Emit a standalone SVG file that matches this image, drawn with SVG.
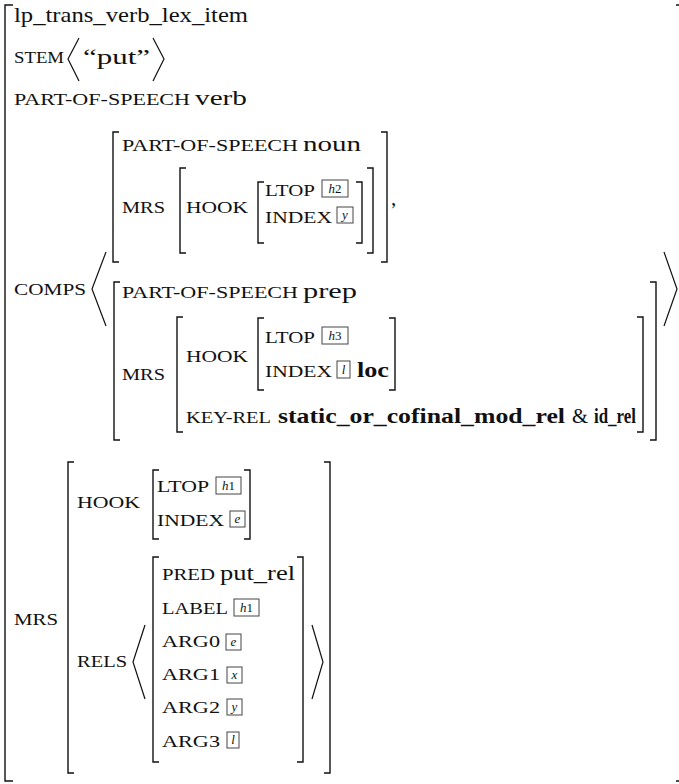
<svg xmlns="http://www.w3.org/2000/svg" width="679" height="784" viewBox="0 0 679 784">
<style>
text{font-family:"Liberation Serif","Times New Roman",serif;fill:#111}
.v{font-size:21px}
.k{font-size:17px}
.b{font-weight:bold;font-size:20px}
.t{font-size:13px;font-style:italic;text-anchor:middle}
.n{font-style:normal}
.br{fill:none;stroke:#111;stroke-width:1.4}
.ang{fill:none;stroke:#111;stroke-width:1.2}
.tag{fill:none;stroke:#444;stroke-width:1}
</style>
<rect width="679" height="784" fill="#fff"/>
<g id="outer">
<path class="br" d="M13 5H5V781H13"/>
<path class="br" d="M676 5H679M676 781H679"/>
<text class="v" x="14" y="22" textLength="234" lengthAdjust="spacingAndGlyphs">lp_trans_verb_lex_item</text>
</g>
<g id="stem">
<text class="k" x="14" y="63" textLength="50" lengthAdjust="spacingAndGlyphs">STEM</text>
<path class="ang" d="M79 38L68 59L79 81"/>
<text class="v" x="83" y="64" textLength="67" lengthAdjust="spacingAndGlyphs">“put”</text>
<path class="ang" d="M153 38L164 59L153 81"/>
</g>
<g id="pos">
<text class="k" x="14" y="105" textLength="176" lengthAdjust="spacingAndGlyphs">PART-OF-SPEECH</text>
<text class="v" x="195" y="105" textLength="52" lengthAdjust="spacingAndGlyphs">verb</text>
</g>
<g id="comps">
<text class="k" x="14" y="295" textLength="72" lengthAdjust="spacingAndGlyphs">COMPS</text>
<path class="ang" d="M106 252L92 289L106 326"/>
<path class="ang" d="M664 252L677 289L664 326"/>
<g id="comp1">
<path class="br" d="M119 132H113V262H119"/>
<path class="br" d="M381 132H387V262H381"/>
<text class="k" x="122" y="151" textLength="176" lengthAdjust="spacingAndGlyphs">PART-OF-SPEECH</text>
<text class="v" x="303" y="151" textLength="58" lengthAdjust="spacingAndGlyphs">noun</text>
<text class="k" x="122" y="213" textLength="43" lengthAdjust="spacingAndGlyphs">MRS</text>
<path class="br" d="M186 168H180V253H186"/>
<path class="br" d="M367 168H373V253H367"/>
<text class="k" x="186" y="213" textLength="62" lengthAdjust="spacingAndGlyphs">HOOK</text>
<path class="br" d="M264 182H258V243H264"/>
<path class="br" d="M356 182H362V243H356"/>
<text class="k" x="265" y="196" textLength="50" lengthAdjust="spacingAndGlyphs">LTOP</text>
<rect class="tag" x="322" y="180" width="26" height="17"/>
<text class="t" x="335" y="193">h<tspan class="n">2</tspan></text>
<text class="k" x="265" y="223" textLength="67" lengthAdjust="spacingAndGlyphs">INDEX</text>
<rect class="tag" x="337" y="207" width="16" height="16"/>
<text class="t" x="345" y="219">y</text>
<text class="v" x="391" y="205">,</text>
</g>
<g id="comp2">
<path class="br" d="M120 282H114V440H120"/>
<path class="br" d="M650 282H656V440H650"/>
<text class="k" x="122" y="298" textLength="176" lengthAdjust="spacingAndGlyphs">PART-OF-SPEECH</text>
<text class="v" x="303" y="298" textLength="54" lengthAdjust="spacingAndGlyphs">prep</text>
<text class="k" x="122" y="380" textLength="43" lengthAdjust="spacingAndGlyphs">MRS</text>
<path class="br" d="M183 317H177V432H183"/>
<path class="br" d="M637 317H643V432H637"/>
<text class="k" x="186" y="362" textLength="62" lengthAdjust="spacingAndGlyphs">HOOK</text>
<path class="br" d="M264 318H258V390H264"/>
<path class="br" d="M389 318H395V390H389"/>
<text class="k" x="265" y="343" textLength="50" lengthAdjust="spacingAndGlyphs">LTOP</text>
<rect class="tag" x="322" y="327" width="26" height="17"/>
<text class="t" x="335" y="340">h<tspan class="n">3</tspan></text>
<text class="k" x="265" y="377" textLength="67" lengthAdjust="spacingAndGlyphs">INDEX</text>
<rect class="tag" x="337" y="361" width="13" height="17"/>
<text class="t" x="343.5" y="374">l</text>
<text class="b" x="357" y="377" textLength="32" lengthAdjust="spacingAndGlyphs">loc</text>
<text class="k" x="186" y="423" textLength="85" lengthAdjust="spacingAndGlyphs">KEY-REL</text>
<text class="b" x="278" y="423" textLength="287" lengthAdjust="spacingAndGlyphs">static_or_cofinal_mod_rel</text>
<text class="v" x="572" y="423" textLength="16" lengthAdjust="spacingAndGlyphs">&amp;</text>
<text class="b" x="594" y="423" textLength="42" lengthAdjust="spacingAndGlyphs">id_rel</text>
</g>
</g>
<g id="mrs">
<text class="k" x="14" y="625" textLength="44" lengthAdjust="spacingAndGlyphs">MRS</text>
<path class="br" d="M74 462H68V773H74"/>
<path class="br" d="M324 462H330V773H324"/>
<text class="k" x="77" y="508" textLength="63" lengthAdjust="spacingAndGlyphs">HOOK</text>
<path class="br" d="M159 470H153V539H159"/>
<path class="br" d="M244 470H250V539H244"/>
<text class="k" x="157" y="492" textLength="52" lengthAdjust="spacingAndGlyphs">LTOP</text>
<rect class="tag" x="216" y="477" width="25" height="17"/>
<text class="t" x="228.5" y="490">h<tspan class="n">1</tspan></text>
<text class="k" x="157" y="526" textLength="67" lengthAdjust="spacingAndGlyphs">INDEX</text>
<rect class="tag" x="230" y="511" width="15" height="16"/>
<text class="t" x="237.5" y="523">e</text>
<text class="k" x="77" y="667" textLength="50" lengthAdjust="spacingAndGlyphs">RELS</text>
<path class="ang" d="M145 625L133 662L145 699"/>
<path class="br" d="M159 557H153V762H159"/>
<path class="br" d="M297 557H303V762H297"/>
<path class="ang" d="M312 625L323 662L312 699"/>
<text class="k" x="162" y="580" textLength="53" lengthAdjust="spacingAndGlyphs">PRED</text>
<text class="v" x="220" y="580" textLength="75" lengthAdjust="spacingAndGlyphs">put_rel</text>
<text class="k" x="162" y="614" textLength="66" lengthAdjust="spacingAndGlyphs">LABEL</text>
<rect class="tag" x="234" y="599" width="25" height="17"/>
<text class="t" x="246.5" y="612">h<tspan class="n">1</tspan></text>
<text class="k" x="162" y="647" textLength="58" lengthAdjust="spacingAndGlyphs">ARG0</text>
<rect class="tag" x="226" y="634" width="15" height="16"/>
<text class="t" x="233.5" y="646">e</text>
<text class="k" x="162" y="680" textLength="58" lengthAdjust="spacingAndGlyphs">ARG1</text>
<rect class="tag" x="227" y="667" width="15" height="16"/>
<text class="t" x="234.5" y="679">x</text>
<text class="k" x="162" y="713" textLength="58" lengthAdjust="spacingAndGlyphs">ARG2</text>
<rect class="tag" x="227" y="699" width="15" height="16"/>
<text class="t" x="234.5" y="711">y</text>
<text class="k" x="162" y="747" textLength="58" lengthAdjust="spacingAndGlyphs">ARG3</text>
<rect class="tag" x="227" y="732" width="12" height="16"/>
<text class="t" x="233" y="744">l</text>
</g>
</svg>
